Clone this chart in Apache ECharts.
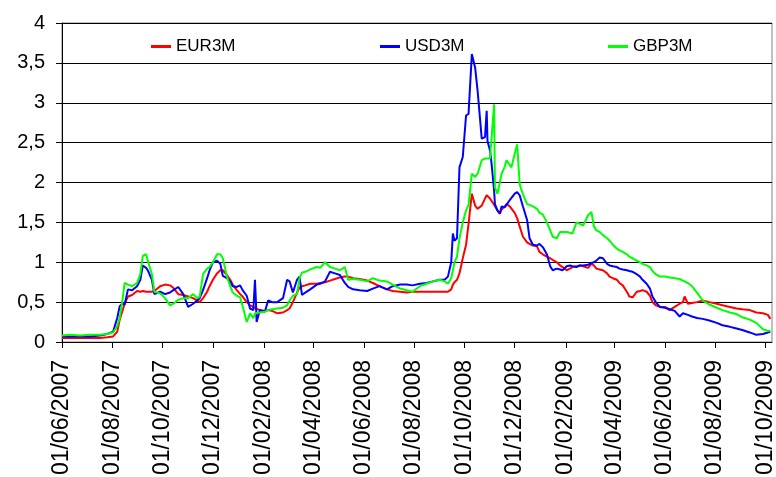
<!DOCTYPE html>
<html>
<head>
<meta charset="utf-8">
<script src="https://cdn.jsdelivr.net/npm/echarts@6/dist/echarts.min.js"></script>
<style>
  html, body { margin: 0; padding: 0; background: #fff; }
  #main { width: 776px; height: 477px; }
</style>
</head>
<body>
<div id="main"></div>
<script>
// sample dates (shared by the three series)
const dates = [
  '2007-06-01','2007-06-11','2007-06-23','2007-07-05','2007-07-17','2007-07-26','2007-08-02','2007-08-07','2007-08-10','2007-08-13',
  '2007-08-16','2007-08-20','2007-08-25','2007-08-31','2007-09-04','2007-09-07','2007-09-11','2007-09-13','2007-09-18','2007-09-21',
  '2007-09-28','2007-10-04','2007-10-10','2007-10-14','2007-10-20','2007-10-26','2007-11-01','2007-11-07','2007-11-12','2007-11-15',
  '2007-11-19','2007-11-24','2007-11-27','2007-12-01','2007-12-06','2007-12-10','2007-12-13','2007-12-18','2007-12-22','2007-12-25',
  '2007-12-30','2008-01-03','2008-01-06','2008-01-11','2008-01-15','2008-01-19','2008-01-21','2008-01-22','2008-01-23','2008-01-27',
  '2008-02-02','2008-02-06','2008-02-11','2008-02-17','2008-02-24','2008-02-29','2008-03-03','2008-03-07','2008-03-12','2008-03-15',
  '2008-03-18','2008-03-22','2008-03-28','2008-04-05','2008-04-09','2008-04-15','2008-04-21','2008-04-27','2008-05-03','2008-05-09',
  '2008-05-13','2008-05-19','2008-05-27','2008-06-05','2008-06-12','2008-06-20','2008-06-29','2008-07-06','2008-07-15','2008-07-23',
  '2008-07-30','2008-08-08','2008-08-16','2008-08-24','2008-09-01','2008-09-07','2008-09-11','2008-09-15','2008-09-17','2008-09-19',
  '2008-09-22','2008-09-25','2008-09-29','2008-10-03','2008-10-06','2008-10-10','2008-10-14','2008-10-17','2008-10-22','2008-10-26',
  '2008-10-28','2008-10-29','2008-11-01','2008-11-03','2008-11-06','2008-11-07','2008-11-10','2008-11-13','2008-11-15','2008-11-19',
  '2008-11-21','2008-11-25','2008-11-27','2008-12-01','2008-12-04','2008-12-07','2008-12-11','2008-12-16','2008-12-19','2008-12-23',
  '2008-12-28','2008-12-31','2009-01-04','2009-01-09','2009-01-13','2009-01-16','2009-01-21','2009-01-25','2009-01-28','2009-02-02',
  '2009-02-06','2009-02-09','2009-02-14','2009-02-18','2009-02-22','2009-02-28','2009-03-04','2009-03-07','2009-03-10','2009-03-14',
  '2009-03-18','2009-03-23','2009-03-26','2009-03-30','2009-04-04','2009-04-07','2009-04-11','2009-04-16','2009-04-19','2009-04-23',
  '2009-04-28','2009-05-02','2009-05-05','2009-05-10','2009-05-14','2009-05-17','2009-05-21','2009-05-26','2009-06-01','2009-06-07',
  '2009-06-13','2009-06-19','2009-06-23','2009-06-25','2009-06-29','2009-07-04','2009-07-10','2009-07-17','2009-07-25','2009-08-03',
  '2009-08-10','2009-08-19','2009-08-27','2009-09-03','2009-09-12','2009-09-20','2009-09-28','2009-10-04','2009-10-07'
];

const eur3m = [
  0.05,0.05,0.05,0.05,0.05,0.06,0.07,0.13,0.28,0.38,
  0.48,0.57,0.59,0.64,0.63,0.64,0.63,0.64,0.63,0.64,
  0.70,0.72,0.71,0.68,0.60,0.59,0.57,0.55,0.52,0.50,
  0.55,0.63,0.70,0.78,0.86,0.90,0.90,0.84,0.78,0.72,
  0.65,0.60,0.57,0.50,0.46,0.44,0.42,0.42,0.42,0.40,
  0.39,0.40,0.39,0.36,0.37,0.40,0.42,0.50,0.62,0.68,
  0.70,0.71,0.73,0.73,0.74,0.75,0.77,0.79,0.81,0.82,
  0.82,0.80,0.79,0.77,0.74,0.70,0.66,0.64,0.63,0.62,
  0.63,0.63,0.63,0.63,0.63,0.63,0.63,0.66,0.72,0.75,
  0.78,0.86,1.05,1.22,1.48,1.86,1.71,1.67,1.71,1.80,
  1.84,1.82,1.80,1.80,1.72,1.70,1.65,1.61,1.66,1.70,
  1.73,1.70,1.71,1.62,1.55,1.45,1.32,1.25,1.23,1.21,
  1.20,1.13,1.10,1.07,1.05,1.03,1.00,0.96,0.94,0.90,
  0.92,0.94,0.95,0.96,0.95,0.93,0.98,0.96,0.92,0.91,
  0.90,0.86,0.82,0.80,0.78,0.74,0.71,0.63,0.57,0.56,
  0.63,0.64,0.65,0.63,0.58,0.50,0.46,0.44,0.44,0.40,
  0.44,0.48,0.50,0.57,0.48,0.49,0.50,0.52,0.50,0.48,
  0.46,0.44,0.42,0.41,0.40,0.37,0.36,0.34,0.29
];

const usd3m = [
  0.07,0.07,0.07,0.07,0.08,0.10,0.13,0.30,0.45,0.48,
  0.47,0.66,0.65,0.70,0.78,0.96,0.93,0.90,0.78,0.60,
  0.63,0.60,0.62,0.65,0.69,0.60,0.44,0.48,0.52,0.55,
  0.65,0.80,0.90,1.00,1.02,0.98,0.83,0.80,0.76,0.70,
  0.69,0.71,0.65,0.58,0.42,0.40,0.78,0.55,0.25,0.40,
  0.38,0.52,0.50,0.50,0.55,0.78,0.76,0.62,0.78,0.82,
  0.59,0.62,0.66,0.72,0.73,0.76,0.88,0.86,0.84,0.74,
  0.69,0.66,0.65,0.64,0.67,0.70,0.66,0.70,0.72,0.72,
  0.71,0.73,0.74,0.76,0.78,0.78,0.82,1.00,1.36,1.27,
  1.30,2.19,2.32,2.84,2.86,3.61,3.44,3.15,2.55,2.57,
  2.90,2.52,2.40,2.23,1.90,1.73,1.65,1.61,1.70,1.69,
  1.72,1.78,1.80,1.86,1.88,1.84,1.70,1.53,1.30,1.22,
  1.21,1.23,1.19,1.10,0.95,0.90,0.92,0.91,0.90,0.95,
  0.96,0.95,0.94,0.96,0.96,0.97,0.99,1.00,1.02,1.06,
  1.05,0.98,0.96,0.95,0.94,0.92,0.91,0.90,0.89,0.88,
  0.85,0.82,0.78,0.73,0.67,0.57,0.50,0.44,0.43,0.41,
  0.39,0.32,0.36,0.35,0.34,0.32,0.30,0.29,0.27,0.24,
  0.21,0.19,0.17,0.15,0.12,0.09,0.10,0.12,0.13
];

const gbp3m = [
  0.08,0.09,0.08,0.09,0.09,0.10,0.12,0.20,0.30,0.50,
  0.74,0.72,0.70,0.74,0.85,1.08,1.10,1.02,0.85,0.63,
  0.61,0.55,0.46,0.48,0.53,0.55,0.55,0.60,0.55,0.57,
  0.85,0.92,0.94,1.00,1.10,1.10,1.05,0.82,0.70,0.62,
  0.58,0.56,0.45,0.25,0.36,0.30,0.36,0.35,0.36,0.37,
  0.38,0.40,0.41,0.42,0.43,0.46,0.52,0.58,0.60,0.80,
  0.87,0.88,0.91,0.94,0.93,1.00,0.94,0.92,0.90,0.94,
  0.78,0.79,0.78,0.76,0.80,0.77,0.76,0.72,0.67,0.65,
  0.63,0.70,0.73,0.76,0.78,0.76,0.73,0.80,0.90,1.00,
  1.07,1.30,1.50,1.65,1.72,2.11,2.07,2.11,2.28,2.30,
  2.32,2.30,2.30,2.28,2.98,1.94,1.86,2.00,2.11,2.20,
  2.28,2.22,2.19,2.36,2.48,1.98,1.85,1.73,1.72,1.70,
  1.67,1.62,1.60,1.50,1.40,1.32,1.30,1.38,1.38,1.38,
  1.37,1.36,1.50,1.48,1.46,1.59,1.63,1.45,1.40,1.38,
  1.34,1.30,1.27,1.22,1.17,1.15,1.13,1.10,1.07,1.05,
  1.02,1.00,0.98,0.96,0.94,0.89,0.85,0.82,0.82,0.81,
  0.80,0.79,0.77,0.76,0.74,0.70,0.62,0.52,0.47,0.43,
  0.40,0.37,0.35,0.31,0.28,0.24,0.16,0.14,0.14
];

// x axis tick dates (every two months)
const tickDates = [
  '2007-06-01','2007-08-01','2007-10-01','2007-12-01','2008-02-01','2008-04-01','2008-06-01','2008-08-01',
  '2008-10-01','2008-12-01','2009-02-01','2009-04-01','2009-06-01','2009-08-01','2009-10-01'
];
const xStart = '2007-06-01';
const xEnd = '2009-10-09';

function toTime(s) {
  const p = s.split('-');
  return new Date(+p[0], +p[1] - 1, +p[2]).getTime();
}
function pad(n) { return n < 10 ? '0' + n : '' + n; }
function fmtDate(v) {
  const d = new Date(v);
  return pad(d.getDate()) + '/' + pad(d.getMonth() + 1) + '/' + d.getFullYear();
}

const ticks = tickDates.map(toTime);
const font = '"Liberation Sans", Arial, sans-serif';

const chart = echarts.init(document.getElementById('main'));
const legendBase = {
  top: 33,
  icon: 'rect',
  itemWidth: 20,
  itemHeight: 3,
  textStyle: { fontFamily: font, fontSize: 17, color: '#000' }
};
const option = {
  animation: false,
  backgroundColor: '#fff',
  grid: {
    left: 62, right: 4, top: 23, bottom: 135,
    show: true, borderColor: '#808080', borderWidth: 1,
    outerBoundsMode: 'none'
  },
  legend: [
    Object.assign({ left: 146, data: ['EUR3M'] }, legendBase),
    Object.assign({ left: 375, data: ['USD3M'] }, legendBase),
    Object.assign({ left: 603, data: ['GBP3M'] }, legendBase)
  ],
  xAxis: {
    type: 'value',
    min: toTime(xStart),
    max: toTime(xEnd),
    axisLine: { lineStyle: { color: '#000', width: 1 } },
    axisTick: { show: true, length: 6, customValues: ticks, lineStyle: { color: '#000' } },
    splitLine: { show: false },
    axisLabel: {
      customValues: ticks,
      rotate: 90,
      margin: 18,
      fontFamily: font,
      fontSize: 23,
      color: '#000',
      formatter: fmtDate
    }
  },
  yAxis: {
    type: 'value',
    min: 0,
    max: 4,
    interval: 0.5,
    axisLine: { show: true, lineStyle: { color: '#000', width: 1 } },
    axisTick: { show: true, length: 6, lineStyle: { color: '#000' } },
    splitLine: { lineStyle: { color: '#000', width: 1 } },
    axisLabel: {
      margin: 17,
      fontFamily: font,
      fontSize: 20,
      color: '#000',
      formatter: v => String(v).replace('.', ',')
    }
  },
  series: [
    { name: 'EUR3M', color: '#ff0000', data: dates.map((d, i) => [toTime(d), eur3m[i]]) },
    { name: 'USD3M', color: '#0000ff', data: dates.map((d, i) => [toTime(d), usd3m[i]]) },
    { name: 'GBP3M', color: '#00ff00', data: dates.map((d, i) => [toTime(d), gbp3m[i]]) }
  ].map(s => Object.assign({
    type: 'line',
    symbol: 'none',
    showSymbol: false,
    lineStyle: { width: 2, color: s.color },
    itemStyle: { color: s.color }
  }, s))
};
chart.setOption(option);
</script>
</body>
</html>
